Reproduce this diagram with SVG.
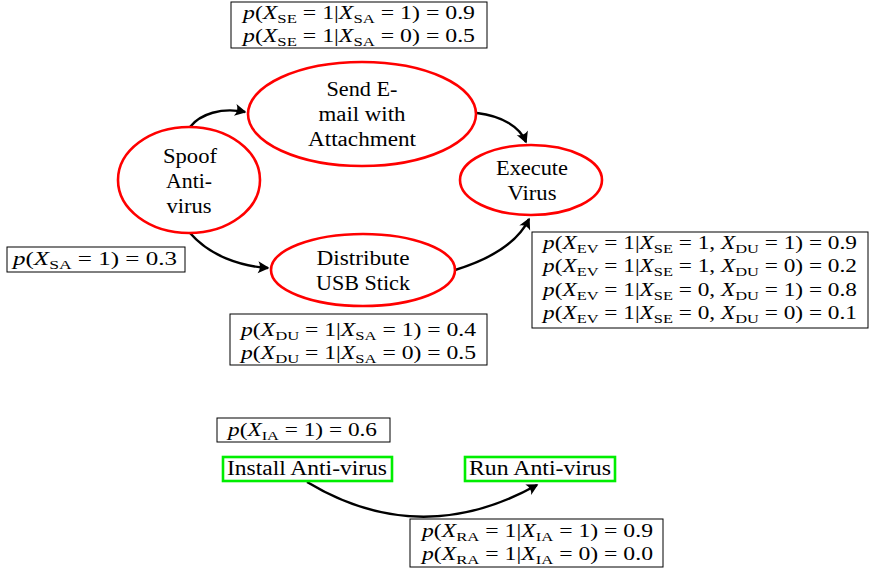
<svg xmlns="http://www.w3.org/2000/svg" width="871" height="574" viewBox="0 0 871 574">
<defs>
<style>
.bg{fill:#fff}
.node-r{fill:#fff;stroke:#ff0000;stroke-width:2.6}
.node-g{fill:#fff;stroke:#00ee00;stroke-width:2.6}
.lbl{font-family:"Liberation Serif","Times New Roman",serif;font-size:20px;fill:#000;text-anchor:middle}
.cpt{fill:#fff;stroke:#000;stroke-width:1}
.m{font-family:"Liberation Serif","Times New Roman",serif;font-size:18.5px;fill:#000}
.i{font-style:italic}
.s{font-size:13px}
.edge{fill:none;stroke:#000;stroke-width:2.4}
</style>
<marker id="arr" viewBox="-12 -7 14 14" refX="0" refY="0" markerWidth="14" markerHeight="14" markerUnits="userSpaceOnUse" orient="auto">
<path d="M1.5,0 L-10,-6 Q-6,0 -10,6 Z" fill="#000"/>
</marker>
</defs>
<rect class="bg" x="0" y="0" width="871" height="574"/>

<g id="edges">
<path class="edge" d="M190,127 C200,114 222,107 245,112" marker-end="url(#arr)"/>
<path class="edge" d="M477,113 C502,116 520,127 526,142" marker-end="url(#arr)"/>
<path class="edge" d="M190,233 C210,256 240,266 268,268" marker-end="url(#arr)"/>
<path class="edge" d="M455,270 C494,258 518,242 529,219" marker-end="url(#arr)"/>
<path class="edge" d="M307,482 Q420,550 537,485" marker-end="url(#arr)"/>
</g>

<g id="spoof">
<ellipse class="node-r" cx="189" cy="180" rx="71" ry="53"/>
<text class="lbl" x="190" y="163" textLength="54" lengthAdjust="spacingAndGlyphs">Spoof</text>
<text class="lbl" x="189" y="188" textLength="46" lengthAdjust="spacingAndGlyphs">Anti-</text>
<text class="lbl" x="189" y="213" textLength="45" lengthAdjust="spacingAndGlyphs">virus</text>
</g>

<g id="sendemail">
<ellipse class="node-r" cx="362" cy="114" rx="114" ry="52"/>
<text class="lbl" x="362" y="96" textLength="71" lengthAdjust="spacingAndGlyphs">Send E-</text>
<text class="lbl" x="362" y="121" textLength="87" lengthAdjust="spacingAndGlyphs">mail with</text>
<text class="lbl" x="362" y="146" textLength="108" lengthAdjust="spacingAndGlyphs">Attachment</text>
</g>

<g id="execute">
<ellipse class="node-r" cx="531" cy="180" rx="71" ry="35"/>
<text class="lbl" x="532" y="175" textLength="72" lengthAdjust="spacingAndGlyphs">Execute</text>
<text class="lbl" x="532" y="200" textLength="49" lengthAdjust="spacingAndGlyphs">Virus</text>
</g>

<g id="distribute">
<ellipse class="node-r" cx="363" cy="270" rx="92" ry="36"/>
<text class="lbl" x="363" y="265" textLength="93" lengthAdjust="spacingAndGlyphs">Distribute</text>
<text class="lbl" x="363" y="290" textLength="94" lengthAdjust="spacingAndGlyphs">USB Stick</text>
</g>

<g id="install">
<rect class="node-g" x="223" y="457" width="169" height="24"/>
<text class="lbl" x="307" y="475" textLength="160" lengthAdjust="spacingAndGlyphs">Install Anti-virus</text>
</g>

<g id="run">
<rect class="node-g" x="465" y="457" width="150" height="24"/>
<text class="lbl" x="540" y="475" textLength="142" lengthAdjust="spacingAndGlyphs">Run Anti-virus</text>
</g>

<g id="cpt-se">
<rect class="cpt" x="231" y="2" width="256" height="46"/>
<text class="m" x="243" y="19" textLength="232" lengthAdjust="spacingAndGlyphs"><tspan class="i">p</tspan>(<tspan class="i">X</tspan><tspan class="s" dy="4">SE</tspan><tspan dy="-4"> = 1|</tspan><tspan class="i">X</tspan><tspan class="s" dy="4">SA</tspan><tspan dy="-4"> = 1) = 0.9</tspan></text>
<text class="m" x="243" y="42" textLength="232" lengthAdjust="spacingAndGlyphs"><tspan class="i">p</tspan>(<tspan class="i">X</tspan><tspan class="s" dy="4">SE</tspan><tspan dy="-4"> = 1|</tspan><tspan class="i">X</tspan><tspan class="s" dy="4">SA</tspan><tspan dy="-4"> = 0) = 0.5</tspan></text>
</g>

<g id="cpt-sa">
<rect class="cpt" x="7" y="247" width="178" height="25"/>
<text class="m" x="13" y="265" textLength="164" lengthAdjust="spacingAndGlyphs"><tspan class="i">p</tspan>(<tspan class="i">X</tspan><tspan class="s" dy="4">SA</tspan><tspan dy="-4"> = 1) = 0.3</tspan></text>
</g>

<g id="cpt-ev">
<rect class="cpt" x="532" y="232" width="336" height="96"/>
<text class="m" x="543" y="249" textLength="314" lengthAdjust="spacingAndGlyphs"><tspan class="i">p</tspan>(<tspan class="i">X</tspan><tspan class="s" dy="4">EV</tspan><tspan dy="-4"> = 1|</tspan><tspan class="i">X</tspan><tspan class="s" dy="4">SE</tspan><tspan dy="-4"> = 1, </tspan><tspan class="i">X</tspan><tspan class="s" dy="4">DU</tspan><tspan dy="-4"> = 1) = 0.9</tspan></text>
<text class="m" x="543" y="272" textLength="314" lengthAdjust="spacingAndGlyphs"><tspan class="i">p</tspan>(<tspan class="i">X</tspan><tspan class="s" dy="4">EV</tspan><tspan dy="-4"> = 1|</tspan><tspan class="i">X</tspan><tspan class="s" dy="4">SE</tspan><tspan dy="-4"> = 1, </tspan><tspan class="i">X</tspan><tspan class="s" dy="4">DU</tspan><tspan dy="-4"> = 0) = 0.2</tspan></text>
<text class="m" x="543" y="296" textLength="314" lengthAdjust="spacingAndGlyphs"><tspan class="i">p</tspan>(<tspan class="i">X</tspan><tspan class="s" dy="4">EV</tspan><tspan dy="-4"> = 1|</tspan><tspan class="i">X</tspan><tspan class="s" dy="4">SE</tspan><tspan dy="-4"> = 0, </tspan><tspan class="i">X</tspan><tspan class="s" dy="4">DU</tspan><tspan dy="-4"> = 1) = 0.8</tspan></text>
<text class="m" x="543" y="319" textLength="314" lengthAdjust="spacingAndGlyphs"><tspan class="i">p</tspan>(<tspan class="i">X</tspan><tspan class="s" dy="4">EV</tspan><tspan dy="-4"> = 1|</tspan><tspan class="i">X</tspan><tspan class="s" dy="4">SE</tspan><tspan dy="-4"> = 0, </tspan><tspan class="i">X</tspan><tspan class="s" dy="4">DU</tspan><tspan dy="-4"> = 0) = 0.1</tspan></text>
</g>

<g id="cpt-du">
<rect class="cpt" x="230" y="314" width="257" height="51"/>
<text class="m" x="241" y="336" textLength="235" lengthAdjust="spacingAndGlyphs"><tspan class="i">p</tspan>(<tspan class="i">X</tspan><tspan class="s" dy="4">DU</tspan><tspan dy="-4"> = 1|</tspan><tspan class="i">X</tspan><tspan class="s" dy="4">SA</tspan><tspan dy="-4"> = 1) = 0.4</tspan></text>
<text class="m" x="241" y="359" textLength="235" lengthAdjust="spacingAndGlyphs"><tspan class="i">p</tspan>(<tspan class="i">X</tspan><tspan class="s" dy="4">DU</tspan><tspan dy="-4"> = 1|</tspan><tspan class="i">X</tspan><tspan class="s" dy="4">SA</tspan><tspan dy="-4"> = 0) = 0.5</tspan></text>
</g>

<g id="cpt-ia">
<rect class="cpt" x="217" y="418" width="173" height="24"/>
<text class="m" x="228" y="436" textLength="149" lengthAdjust="spacingAndGlyphs"><tspan class="i">p</tspan>(<tspan class="i">X</tspan><tspan class="s" dy="4">IA</tspan><tspan dy="-4"> = 1) = 0.6</tspan></text>
</g>

<g id="cpt-ra">
<rect class="cpt" x="410" y="519" width="253" height="48"/>
<text class="m" x="422" y="537" textLength="231" lengthAdjust="spacingAndGlyphs"><tspan class="i">p</tspan>(<tspan class="i">X</tspan><tspan class="s" dy="4">RA</tspan><tspan dy="-4"> = 1|</tspan><tspan class="i">X</tspan><tspan class="s" dy="4">IA</tspan><tspan dy="-4"> = 1) = 0.9</tspan></text>
<text class="m" x="422" y="560" textLength="231" lengthAdjust="spacingAndGlyphs"><tspan class="i">p</tspan>(<tspan class="i">X</tspan><tspan class="s" dy="4">RA</tspan><tspan dy="-4"> = 1|</tspan><tspan class="i">X</tspan><tspan class="s" dy="4">IA</tspan><tspan dy="-4"> = 0) = 0.0</tspan></text>
</g>
</svg>
